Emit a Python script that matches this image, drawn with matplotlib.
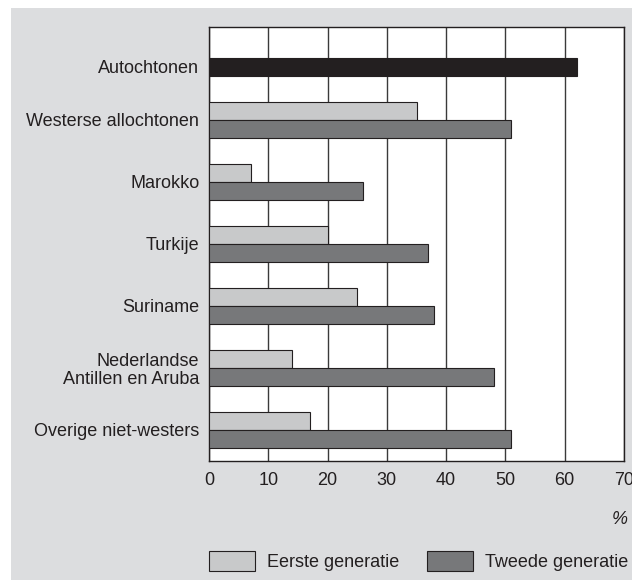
import numpy as np
import matplotlib
matplotlib.use("Agg")
import matplotlib.pyplot as plt
from matplotlib.patches import Rectangle, Patch

plt.rcParams['font.family'] = ['Liberation Sans', 'DejaVu Sans']

# data (top to bottom)
categories = ['Autochtonen', 'Westerse allochtonen', 'Marokko', 'Turkije',
              'Suriname', 'Nederlandse\nAntillen en Aruba', 'Overige niet-westers']
autochtonen = 62
eerste = [np.nan, 35, 7, 20, 25, 14, 17]
tweede = [np.nan, 51, 26, 37, 38, 48, 51]
xticks = [0, 10, 20, 30, 40, 50, 60, 70]

text_col = '#231f20'
light = '#c8c9ca'
dark = '#77787a'
black = '#231f20'
bg = '#dcdddf'

fig = plt.figure(figsize=(6.32, 5.8), dpi=100, facecolor='white')
# grey panel behind the chart
fig.patches.append(Rectangle((11 / 632, 0), 1, 1 - 8 / 580, transform=fig.transFigure,
                             facecolor=bg, edgecolor='none', zorder=-10))

ax = fig.add_axes([209 / 632, 1 - 461 / 580, (624 - 209) / 632, (461 - 27) / 580])
ax.set_facecolor('white')

n = len(categories)
ypos = np.arange(n)[::-1].astype(float)
h = 0.29

# autochtonen sits in the lower (second generation) slot of its row
ax.barh(ypos[0] - h / 2, autochtonen, height=h, color=black, edgecolor=black, linewidth=0.8, zorder=3)
ax.barh(ypos[1:] + h / 2, eerste[1:], height=h, color=light, edgecolor=text_col, linewidth=0.8, zorder=3)
ax.barh(ypos[1:] - h / 2, tweede[1:], height=h, color=dark, edgecolor=text_col, linewidth=0.8, zorder=3)

tickpos = ypos.copy()
tickpos[0] -= h / 2  # label of the first row lines up with its single bar

ax.set_xlim(0, 70)
ax.set_ylim(-0.5, n - 0.5)
ax.set_xticks(xticks)
ax.set_xticklabels([str(v) for v in xticks], fontsize=13, color=text_col)
ax.set_yticks(tickpos)
ax.set_yticklabels(categories, fontsize=13, color=text_col, linespacing=1.05)
ax.tick_params(axis='x', length=0, pad=8)
ax.tick_params(axis='y', length=0, pad=7)
ax.xaxis.grid(True, color='#3a3a3a', linewidth=1.0, zorder=1)
ax.set_axisbelow(True)
for s in ax.spines.values():
    s.set_color(text_col)
    s.set_linewidth(1.0)

fig.text(620 / 632, 1 - 520 / 580, '%', fontsize=13, style='italic', color=text_col,
         ha='center', va='center')

handles = [Patch(facecolor=light, edgecolor=text_col, linewidth=0.8),
           Patch(facecolor=dark, edgecolor=text_col, linewidth=0.8)]
fig.legend(handles, ['Eerste generatie', 'Tweede generatie'], loc='center left',
           bbox_to_anchor=(209 / 632, 1 - 561 / 580), ncol=2, frameon=False,
           fontsize=13, handlelength=2.55, handleheight=1.28, handletextpad=0.65,
           columnspacing=1.55, borderpad=0, borderaxespad=0, labelcolor=text_col)

fig.savefig('out.png', dpi=100, facecolor=fig.get_facecolor())
